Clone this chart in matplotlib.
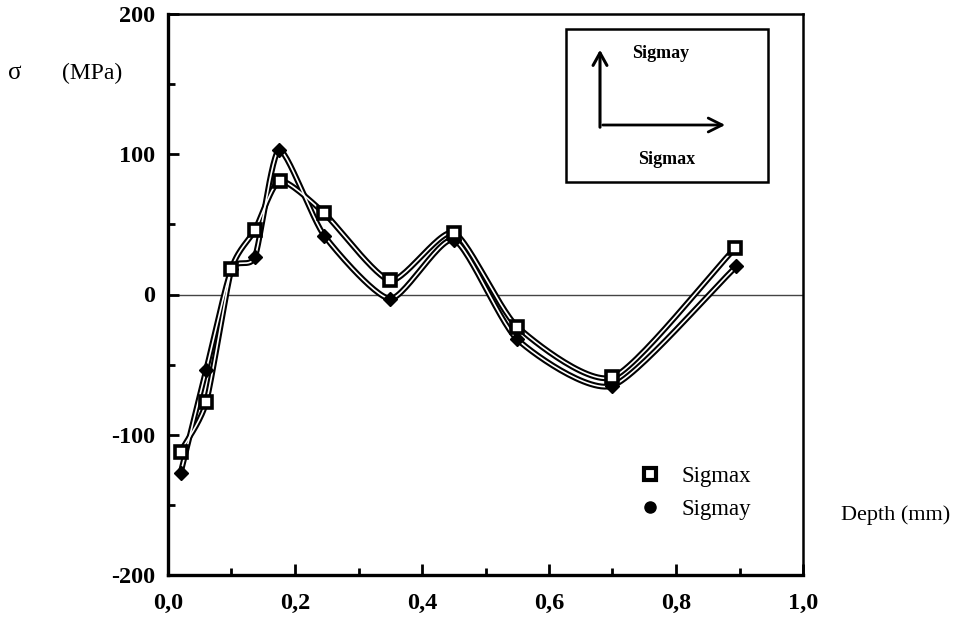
import numpy as np
import matplotlib
matplotlib.use("Agg")
import matplotlib.pyplot as plt
from matplotlib.lines import Line2D
from matplotlib.patches import Rectangle, FancyArrowPatch

plt.rcParams['font.family'] = ['Liberation Serif', 'DejaVu Serif']
plt.rcParams['axes.unicode_minus'] = False

# depth (mm) and stresses (MPa)
depth_x = [0.02, 0.06, 0.10, 0.137, 0.176, 0.246, 0.35, 0.45, 0.55, 0.70, 0.893]
sigmax = [-112, -77, 18, 46, 81, 58, 10, 44, -23, -59, 33]
depth_y = [0.02, 0.06, 0.10, 0.137, 0.175, 0.246, 0.35, 0.45, 0.55, 0.70, 0.895]
sigmay = [-127, -54, 18, 27, 103, 42, -3, 39, -32, -65, 20]

x_ticks = [0.0, 0.2, 0.4, 0.6, 0.8, 1.0]
x_labels = ["0,0", "0,2", "0,4", "0,6", "0,8", "1,0"]
y_ticks = [-200, -100, 0, 100, 200]

W, H = 954, 625


def fx(px):
	return px / W


def fy(py):
	return 1 - py / H


def cardinal(x, y, c=0.32, n=30):
	# smooth line through the points, only for drawing the curve
	p = np.column_stack([x, y]).astype(float)
	m = np.zeros_like(p)
	m[1:-1] = c * (p[2:] - p[:-2])
	m[0] = 2 * c * (p[1] - p[0])
	m[-1] = 2 * c * (p[-1] - p[-2])
	t = np.linspace(0, 1, n)[:, None]
	h00 = 2 * t ** 3 - 3 * t ** 2 + 1
	h10 = t ** 3 - 2 * t ** 2 + t
	h01 = -2 * t ** 3 + 3 * t ** 2
	h11 = t ** 3 - t ** 2
	out = []
	for i in range(len(p) - 1):
		out.append(h00 * p[i] + h10 * m[i] + h01 * p[i + 1] + h11 * m[i + 1])
	out = np.vstack(out)
	return out[:, 0], out[:, 1]


fig = plt.figure(figsize=(W / 100, H / 100), dpi=100)
ax = fig.add_axes([fx(168), fy(575), (803 - 168) / W, (575 - 14) / H])

ax.axhline(0, color="#444444", lw=1.0, zorder=1)

for xs, ys in [(depth_x, sigmax), (depth_y, sigmay)]:
	sx, sy = cardinal(xs, ys)
	ax.plot(sx, sy, color="black", lw=4.2, zorder=2, solid_capstyle="round")
	ax.plot(sx, sy, color="white", lw=1.2, zorder=3)

ax.plot(depth_x, sigmax, ls="none", marker="s", ms=8, mfc="white", mec="black", mew=2.6, zorder=5)
ax.plot(depth_y, sigmay, ls="none", marker="D", ms=7, color="black", zorder=4)

ax.set_xlim(0, 1.0)
ax.set_ylim(-200, 200)
ax.set_xticks(x_ticks)
ax.set_xticklabels(x_labels)
ax.set_xticks(np.arange(0.1, 1.0, 0.2), minor=True)
ax.set_yticks(y_ticks)
ax.set_yticks([-150, -50, 50, 150], minor=True)
ax.tick_params(which="both", direction="in", width=2, labelsize=17.5)
ax.tick_params(which="major", length=8)
ax.tick_params(which="minor", length=5)
ax.tick_params(axis="x", pad=13)
ax.tick_params(axis="y", pad=9)
for lab in ax.get_xticklabels() + ax.get_yticklabels():
	lab.set_fontweight("bold")
for side in ["left", "bottom"]:
	ax.spines[side].set_linewidth(2.4)
for side in ["top", "right"]:
	ax.spines[side].set_linewidth(1.8)

fig.text(fx(15), fy(73), "σ", fontsize=18, va="center", ha="center")
fig.text(fx(62), fy(73), "(MPa)", fontsize=17, va="center", ha="left")
fig.text(fx(950), fy(515), "Depth (mm)", fontsize=16, va="center", ha="right")

# inset frame with the two stress directions
fig.add_artist(Rectangle((fx(566), fy(182)), (768 - 566) / W, (182 - 29) / H,
	transform=fig.transFigure, fill=False, lw=1.8, color="black"))
fig.add_artist(FancyArrowPatch((fx(600), fy(130)), (fx(600), fy(47)), transform=fig.transFigure,
	arrowstyle="->,head_length=9,head_width=5", lw=2.2, color="black"))
fig.add_artist(FancyArrowPatch((fx(600), fy(125)), (fx(728), fy(125)), transform=fig.transFigure,
	arrowstyle="->,head_length=10,head_width=5", lw=2.0, color="black"))
fig.text(fx(632), fy(53), "Sigmay", fontsize=13, fontweight="bold", va="center", ha="left")
fig.text(fx(667), fy(160), "Sigmax", fontsize=13, fontweight="bold", va="center", ha="center")

handles = [
	Line2D([], [], ls="none", marker="s", ms=8, mfc="white", mec="black", mew=3),
	Line2D([], [], ls="none", marker="o", ms=8, color="black"),
]
ax.legend(handles, ["Sigmax", "Sigmay"], loc="center left", bbox_to_anchor=(0.726, 0.146),
	frameon=False, fontsize=16.5, handlelength=1.0, handletextpad=0.9, labelspacing=0.55,
	borderaxespad=0)

fig.savefig("out.png", dpi=100)
